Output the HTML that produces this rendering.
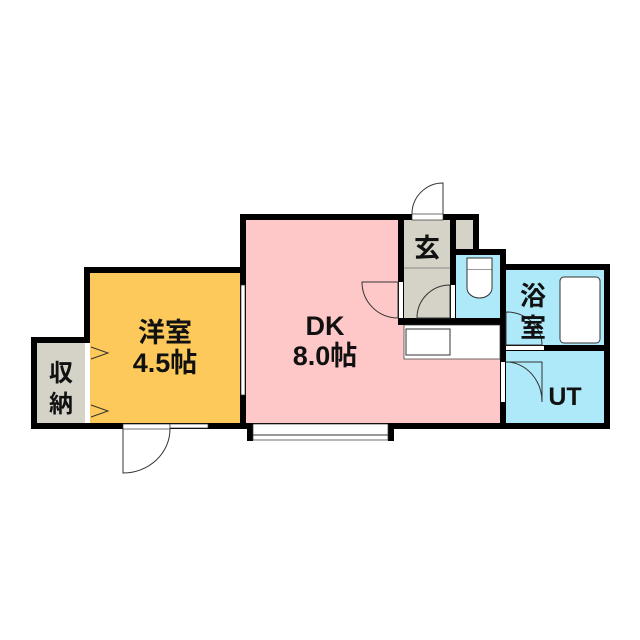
<!DOCTYPE html><html><head><meta charset="utf-8"><style>body{margin:0;background:#fff}svg{display:block}text{font-family:"Liberation Sans","Noto Sans CJK JP",sans-serif;fill:#111;font-weight:bold}</style></head><body>
<svg width="640" height="640" viewBox="0 0 640 640">
<rect x="84" y="267" width="162" height="162" fill="#fcc95a"/>
<rect x="31" y="337" width="59" height="92" fill="#d5d2c7"/>
<rect x="240" y="214" width="166" height="215" fill="#ffc8c8"/>
<rect x="398" y="318" width="108" height="111" fill="#ffc8c8"/>
<rect x="398" y="214" width="80" height="111" fill="#d5d2c7"/>
<rect x="450" y="249" width="56" height="76" fill="#aee9f9"/>
<rect x="500" y="267" width="110" height="162" fill="#aee9f9"/>
<rect x="560" y="277" width="40" height="66" rx="4" fill="#fff" stroke="#333" stroke-width="1"/>
<g fill="#000">
<rect x="84" y="267" width="162" height="6"/>
<rect x="84" y="267" width="6" height="75"/>
<rect x="31" y="337" width="59" height="6"/>
<rect x="31" y="337" width="6" height="92"/>
<rect x="31" y="423" width="375" height="6"/>
<rect x="240" y="214" width="6" height="215"/>
<rect x="240" y="214" width="238" height="6"/>
<rect x="398" y="214" width="6" height="111"/>
<rect x="450" y="214" width="6" height="111"/>
<rect x="473" y="214" width="6" height="41"/>
<rect x="450" y="249" width="56" height="6"/>
<rect x="500" y="249" width="6" height="180"/>
<rect x="398" y="318" width="108" height="7"/>
<rect x="500" y="264" width="110" height="6"/>
<rect x="604" y="264" width="6" height="165"/>
<rect x="500" y="345" width="110" height="6"/>
<rect x="380" y="423" width="230" height="6"/>
<rect x="247" y="423" width="6" height="18"/>
<rect x="388" y="423" width="6" height="18"/>
</g>
<rect x="241" y="285" width="4" height="110" fill="#fff" stroke="#333" stroke-width="0.7"/>
<rect x="85" y="343" width="5" height="80" fill="#fff"/>
<rect x="123" y="424" width="47" height="5" fill="#fff" stroke="#333" stroke-width="0.7"/>
<rect x="170" y="424" width="38" height="4" fill="#fff" stroke="#333" stroke-width="0.7"/>
<rect x="253" y="424" width="135" height="16" fill="#fff" stroke="#333" stroke-width="0.7"/>
<line x1="253" y1="435" x2="388" y2="435" stroke="#333"/>
<rect x="412" y="214" width="31" height="6" fill="#fff" stroke="#333" stroke-width="0.7"/>
<rect x="399" y="282" width="4" height="36" fill="#fff"/>
<rect x="451" y="285" width="4" height="33" fill="#fff"/>
<rect x="501" y="362" width="4" height="40" fill="#fff"/>
<rect x="506" y="346" width="38" height="4" fill="#fff"/>
<rect x="404" y="325" width="96" height="34" fill="#fff" stroke="#333" stroke-width="0.7"/>
<rect x="406" y="329" width="44" height="26" fill="#fff" stroke="#333"/>
<rect x="467" y="258" width="25" height="12" fill="#fff" stroke="#333"/>
<path d="M467 270 V288 A12.5 10 0 0 0 492 288 V270" fill="#fff" stroke="#333"/>
<g fill="none" stroke="#333" stroke-width="1">
<path d="M443 214 V183 A31 31 0 0 0 412 214"/>
<path d="M123 429 V473 A47 44 0 0 0 170 429"/>
<path d="M398 318 V282 H362 A36 36 0 0 0 398 318"/>
<path d="M450 285 V318 H417 A33 33 0 0 1 450 285"/>
<path d="M506 362 H542 V402 A36 40 0 0 0 506 362"/>
<path d="M506 312 V345 H542 A36 33 0 0 0 506 312"/>
<path d="M91 347 L108 353 L91 359"/>
<path d="M91 405 L108 411 L91 417"/>
<line x1="404" y1="268" x2="450" y2="268" stroke="#888"/>
</g>
<text x="165" y="342" font-size="27" text-anchor="middle">洋室</text>
<text x="165" y="372" font-size="27" text-anchor="middle">4.5帖</text>
<text x="61" y="381" font-size="24" text-anchor="middle">収</text>
<text x="61" y="412" font-size="24" text-anchor="middle">納</text>
<text x="325" y="335" font-size="27" text-anchor="middle">DK</text>
<text x="325" y="365" font-size="27" text-anchor="middle">8.0帖</text>
<text x="427" y="257" font-size="26" text-anchor="middle">玄</text>
<text x="533" y="305" font-size="26" text-anchor="middle">浴</text>
<text x="533" y="337" font-size="26" text-anchor="middle">室</text>
<text x="565" y="405" font-size="25" text-anchor="middle">UT</text>
</svg></body></html>
